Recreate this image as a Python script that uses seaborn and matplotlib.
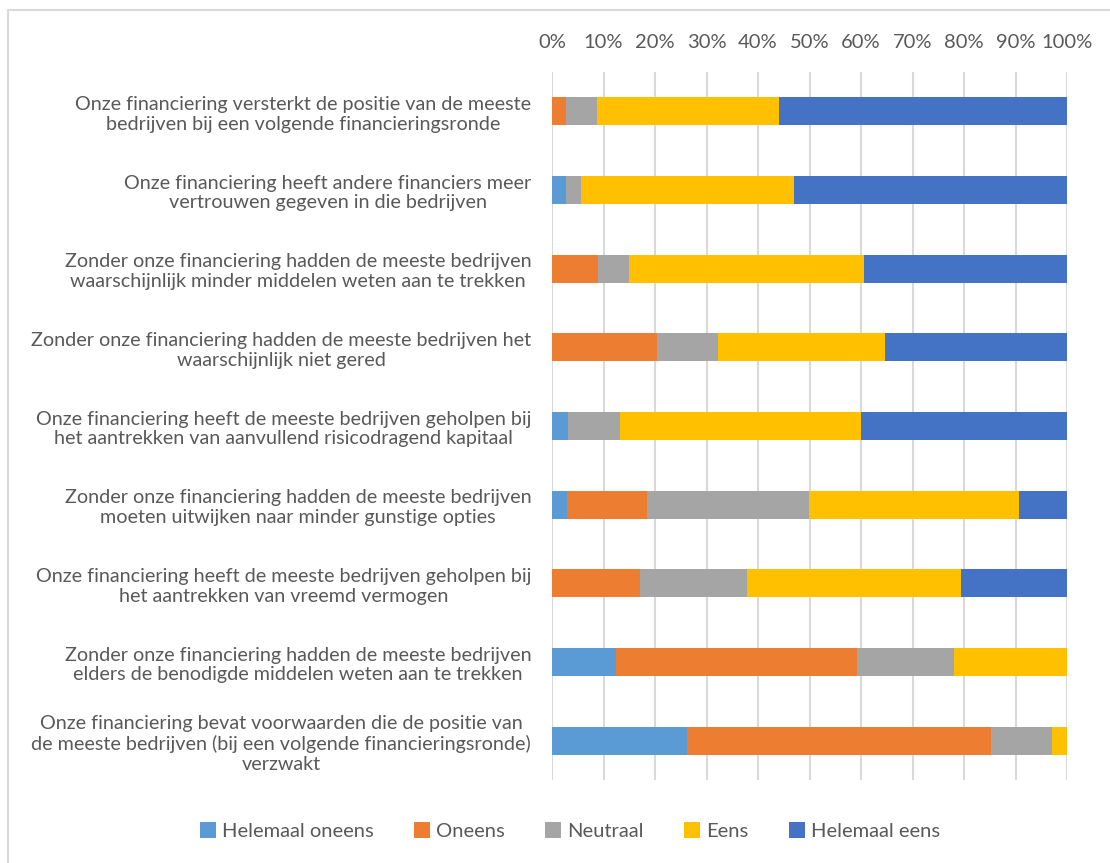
import numpy as np
import pandas as pd
import seaborn as sns
import matplotlib.pyplot as plt
from matplotlib.lines import Line2D
from matplotlib.patches import Patch
from matplotlib.ticker import PercentFormatter

statements = [
    "Onze financiering versterkt de positie van de meeste\nbedrijven bij een volgende financieringsronde",
    "Onze financiering heeft andere financiers meer\nvertrouwen gegeven in die bedrijven",
    "Zonder onze financiering hadden de meeste bedrijven\nwaarschijnlijk minder middelen weten aan te trekken",
    "Zonder onze financiering hadden de meeste bedrijven het\nwaarschijnlijk niet gered",
    "Onze financiering heeft de meeste bedrijven geholpen bij\nhet aantrekken van aanvullend risicodragend kapitaal",
    "Zonder onze financiering hadden de meeste bedrijven\nmoeten uitwijken naar minder gunstige opties",
    "Onze financiering heeft de meeste bedrijven geholpen bij\nhet aantrekken van vreemd vermogen",
    "Zonder onze financiering hadden de meeste bedrijven\nelders de benodigde middelen weten aan te trekken",
    "Onze financiering bevat voorwaarden die de positie van\nde meeste bedrijven (bij een volgende financieringsronde)\nverzwakt",
]
categories = ["Helemaal oneens", "Oneens", "Neutraal", "Eens", "Helemaal eens"]
colors = ["#5b9bd5", "#ed7d31", "#a5a5a5", "#ffc000", "#4472c4"]

helemaal_oneens = [0.0, 2.7, 0.0, 0.0, 3.1, 2.9, 0.0, 12.4, 26.3]
oneens = [2.7, 0.0, 8.9, 20.4, 0.0, 15.6, 17.1, 46.8, 59.0]
neutraal = [6.0, 2.9, 6.0, 11.8, 10.1, 31.4, 20.7, 18.9, 11.7]
eens = [35.3, 41.3, 45.6, 32.5, 46.8, 40.7, 41.6, 21.9, 3.0]
helemaal_eens = [56.0, 53.1, 39.5, 35.3, 40.0, 9.4, 20.6, 0.0, 0.0]

df = pd.DataFrame(
    {"Helemaal oneens": helemaal_oneens, "Oneens": oneens, "Neutraal": neutraal,
     "Eens": eens, "Helemaal eens": helemaal_eens},
    index=statements,
)
df = df.div(df.sum(axis=1), axis=0)
cum = df.cumsum(axis=1)

sns.set_theme(style="white")
plt.rcParams["font.family"] = ["Lato", "DejaVu Sans"]
text_col = "#595959"
grid_col = "#d9d9d9"

fig = plt.figure(figsize=(11.1, 8.63), dpi=100)
ax = fig.add_axes([552 / 1110, 1 - 780 / 863, (1067 - 552) / 1110, (780 - 72) / 863])

# draw longest cumulative first so shorter segments sit on top
for cat, col in reversed(list(zip(categories, colors))):
    plot_df = pd.DataFrame({"stelling": statements, "waarde": cum[cat].values})
    sns.barplot(data=plot_df, x="waarde", y="stelling", orient="h", color=col,
                width=0.36, saturation=1, ax=ax, zorder=3, edgecolor="none")

ax.set_xlim(0, 1)
ax.set_xticks(np.linspace(0, 1, 11))
ax.xaxis.set_major_formatter(PercentFormatter(1.0, decimals=0))
ax.xaxis.tick_top()
ax.tick_params(axis="x", length=0, pad=15, labelsize=14.5, labelcolor=text_col)
ax.tick_params(axis="y", length=0, pad=15, labelsize=14.2, labelcolor=text_col)
for lbl in ax.get_yticklabels():
    lbl.set_multialignment("center")
ax.grid(axis="x", color=grid_col, lw=1.5, zorder=0)
ax.set_axisbelow(True)
for s in ax.spines.values():
    s.set_visible(False)
ax.set_xlabel("")
ax.set_ylabel("")

handles = [Patch(facecolor=c, edgecolor="none") for c in colors]
fig.legend(handles, categories, loc="center", bbox_to_anchor=(570 / 1110, 1 - 831 / 863),
           ncol=5, frameon=False, fontsize=14.5, labelcolor=text_col,
           handlelength=0.8, handleheight=0.8, handletextpad=0.3, columnspacing=2.0)

fig.add_artist(Line2D([8 / 1110, 1], [1 - 10 / 863] * 2, color=grid_col, lw=1.5, transform=fig.transFigure))
fig.add_artist(Line2D([8 / 1110] * 2, [0, 1 - 10 / 863], color=grid_col, lw=1.5, transform=fig.transFigure))

fig.savefig("out.png", dpi=100)
